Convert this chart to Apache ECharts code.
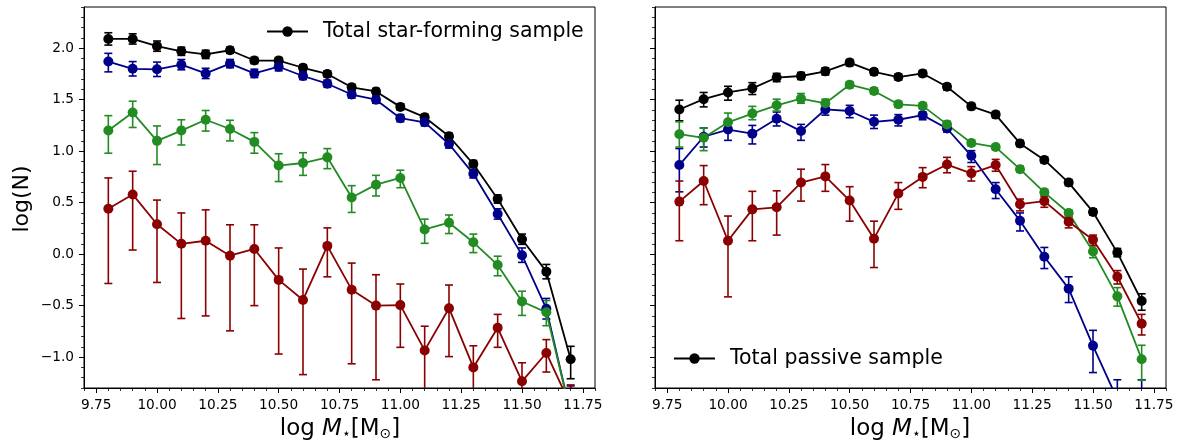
<!DOCTYPE html>
<html>
<head>
<meta charset="utf-8">
<script src="https://cdn.jsdelivr.net/npm/echarts@6/dist/echarts.min.js"></script>
<style>
html,body{margin:0;padding:0;background:#fff;}
#chart{width:1186px;height:443px;}
</style>
</head>
<body>
<div id="chart"></div>
<script>
// ---------- data ----------
const masses = [9.8, 9.9, 10.0, 10.1, 10.2, 10.3, 10.4, 10.5, 10.6, 10.7, 10.8, 10.9, 11.0, 11.1, 11.2, 11.3, 11.4, 11.5, 11.6, 11.7];

const xTickValues = [9.75, 10.0, 10.25, 10.5, 10.75, 11.0, 11.25, 11.5, 11.75];
const xTickLabels = ['9.75', '10.00', '10.25', '10.50', '10.75', '11.00', '11.25', '11.50', '11.75'];
const yTickValues = [-1.0, -0.5, 0.0, 0.5, 1.0, 1.5, 2.0];
const yTickLabels = ['\u22121.0', '\u22120.5', '0.0', '0.5', '1.0', '1.5', '2.0'];

// star-forming panel
const sfTotal   = [2.09, 2.09, 2.02, 1.97, 1.94, 1.98, 1.88, 1.88, 1.81, 1.75, 1.62, 1.58, 1.43, 1.33, 1.145, 0.875, 0.535, 0.145, -0.17, -1.02];
const sfTotalHi = [2.15, 2.14, 2.07, 2.01, 1.98, 2.01, 1.91, 1.91, 1.84, 1.78, 1.65, 1.61, 1.46, 1.36, 1.175, 0.91, 0.575, 0.195, -0.10, -0.895];
const sfTotalLo = [2.03, 2.04, 1.97, 1.93, 1.90, 1.95, 1.85, 1.85, 1.78, 1.72, 1.59, 1.55, 1.40, 1.30, 1.115, 0.84, 0.495, 0.095, -0.24, -1.21];

const sfBlue    = [1.87, 1.80, 1.795, 1.84, 1.755, 1.85, 1.755, 1.82, 1.73, 1.655, 1.55, 1.50, 1.32, 1.28, 1.07, 0.78, 0.39, -0.01, -0.53, -1.55];
const sfBlueHi  = [1.95, 1.87, 1.865, 1.89, 1.805, 1.89, 1.795, 1.86, 1.765, 1.69, 1.585, 1.535, 1.355, 1.315, 1.11, 0.82, 0.44, 0.06, -0.43, -1.28];
const sfBlueLo  = [1.77, 1.73, 1.725, 1.79, 1.705, 1.81, 1.715, 1.78, 1.695, 1.62, 1.515, 1.465, 1.285, 1.245, 1.03, 0.74, 0.34, -0.08, -0.63, -1.82];

const sfGreen   = [1.20, 1.375, 1.10, 1.20, 1.305, 1.215, 1.09, 0.86, 0.885, 0.94, 0.55, 0.675, 0.74, 0.24, 0.305, 0.115, -0.105, -0.46, -0.565, -1.55];
const sfGreenHi = [1.345, 1.485, 1.245, 1.305, 1.395, 1.30, 1.18, 0.975, 0.985, 1.025, 0.665, 0.765, 0.815, 0.34, 0.38, 0.195, -0.02, -0.36, -0.45, -1.35];
const sfGreenLo = [0.98, 1.23, 0.87, 1.06, 1.195, 1.10, 0.98, 0.705, 0.765, 0.83, 0.405, 0.565, 0.645, 0.105, 0.20, 0.015, -0.21, -0.595, -0.695, -1.8];

const sfRed     = [0.44, 0.58, 0.29, 0.10, 0.13, -0.015, 0.05, -0.25, -0.445, 0.08, -0.345, -0.50, -0.495, -0.935, -0.525, -1.10, -0.715, -1.235, -0.96, -1.47];
const sfRedHi   = [0.74, 0.805, 0.525, 0.40, 0.43, 0.285, 0.285, 0.06, -0.145, 0.255, -0.087, -0.20, -0.29, -0.70, -0.30, -0.89, -0.585, -1.055, -0.83, -1.27];
const sfRedLo   = [-0.285, 0.04, -0.275, -0.625, -0.60, -0.745, -0.50, -0.97, -1.17, -0.22, -1.065, -1.22, -0.905, -1.45, -0.995, -1.45, -0.905, -1.45, -1.145, -1.7];

// passive panel
const paTotal   = [1.405, 1.505, 1.57, 1.61, 1.715, 1.73, 1.775, 1.86, 1.77, 1.72, 1.755, 1.625, 1.435, 1.355, 1.075, 0.915, 0.695, 0.41, 0.015, -0.455];
const paTotalHi = [1.495, 1.57, 1.63, 1.665, 1.755, 1.765, 1.81, 1.89, 1.80, 1.75, 1.785, 1.655, 1.465, 1.385, 1.105, 0.945, 0.725, 0.44, 0.055, -0.385];
const paTotalLo = [1.295, 1.43, 1.495, 1.55, 1.675, 1.695, 1.74, 1.83, 1.74, 1.69, 1.725, 1.595, 1.405, 1.325, 1.045, 0.885, 0.665, 0.38, -0.025, -0.545];

const paBlue    = [0.865, 1.14, 1.21, 1.17, 1.315, 1.195, 1.405, 1.39, 1.285, 1.305, 1.35, 1.22, 0.955, 0.63, 0.325, -0.025, -0.335, -0.89, -1.41, -1.9];
const paBlueHi  = [1.025, 1.225, 1.30, 1.25, 1.38, 1.26, 1.445, 1.445, 1.35, 1.355, 1.38, 1.255, 1.005, 0.695, 0.40, 0.065, -0.22, -0.74, -1.22, -1.22];
const paBlueLo  = [0.605, 1.04, 1.105, 1.07, 1.245, 1.105, 1.35, 1.325, 1.22, 1.245, 1.305, 1.185, 0.89, 0.54, 0.225, -0.14, -0.47, -1.15, -1.6, -2.6];

const paGreen   = [1.165, 1.13, 1.28, 1.365, 1.445, 1.51, 1.465, 1.645, 1.585, 1.455, 1.44, 1.26, 1.08, 1.04, 0.825, 0.60, 0.40, 0.025, -0.41, -1.02];
const paGreenHi = [1.285, 1.225, 1.37, 1.435, 1.505, 1.56, 1.505, 1.675, 1.615, 1.485, 1.47, 1.29, 1.11, 1.065, 0.855, 0.63, 0.43, 0.08, -0.325, -0.885];
const paGreenLo = [1.04, 1.005, 1.205, 1.305, 1.39, 1.465, 1.425, 1.615, 1.555, 1.425, 1.41, 1.23, 1.05, 1.015, 0.795, 0.57, 0.37, -0.035, -0.505, -1.225];

const paRed     = [0.51, 0.71, 0.13, 0.435, 0.455, 0.695, 0.755, 0.52, 0.15, 0.59, 0.75, 0.87, 0.785, 0.865, 0.485, 0.515, 0.315, 0.14, -0.22, -0.675];
const paRedHi   = [0.71, 0.86, 0.37, 0.61, 0.615, 0.825, 0.87, 0.655, 0.32, 0.695, 0.84, 0.94, 0.85, 0.92, 0.535, 0.56, 0.36, 0.185, -0.16, -0.585];
const paRedLo   = [0.13, 0.48, -0.415, 0.13, 0.185, 0.515, 0.61, 0.32, -0.13, 0.435, 0.645, 0.79, 0.71, 0.805, 0.42, 0.455, 0.255, 0.085, -0.29, -0.785];

const legendLeft = 'Total star-forming sample';
const legendRight = 'Total passive sample';

// ---------- styles ----------
const FONT = 'DejaVu Sans';
const C_BLACK = '#000000', C_BLUE = '#00008b', C_GREEN = '#228b22', C_RED = '#8b0000';
const X_MIN = 9.7, X_MAX = 11.8, Y_MIN = -1.3, Y_MAX = 2.4;
const grids = [
  {left: 84, top: 7, width: 511, height: 381},
  {left: 655, top: 7, width: 511, height: 381}
];

function majorX(g) {
  return {
    type: 'value', gridIndex: g, min: X_MIN, max: X_MAX, position: 'bottom',
    axisLine: {show: true, onZero: false, lineStyle: {color: '#000', width: 1}},
    axisTick: {show: true, customValues: xTickValues, length: 5, lineStyle: {color: '#000', width: 1}},
    axisLabel: {show: true, customValues: xTickValues, margin: 10, color: '#000', fontSize: 13.7, fontFamily: FONT,
      formatter: v => { const i = xTickValues.findIndex(t => Math.abs(t - v) < 1e-6); return i >= 0 ? xTickLabels[i] : ''; }},
    splitLine: {show: false}
  };
}
function minorX(g) {
  return {
    type: 'value', gridIndex: g, min: X_MIN, max: X_MAX, interval: 0.05, position: 'bottom',
    axisLine: {show: false, onZero: false},
    axisTick: {show: true, length: 3, lineStyle: {color: '#000', width: 0.8}},
    axisLabel: {show: false}, splitLine: {show: false}
  };
}
function majorY(g, labels) {
  return {
    type: 'value', gridIndex: g, min: Y_MIN, max: Y_MAX, position: 'left',
    axisLine: {show: true, onZero: false, lineStyle: {color: '#000', width: 1}},
    axisTick: {show: true, customValues: yTickValues, length: 5, lineStyle: {color: '#000', width: 1}},
    axisLabel: {show: labels, customValues: yTickValues, margin: 10, color: '#000', fontSize: 13.7, fontFamily: FONT,
      formatter: v => { const i = yTickValues.findIndex(t => Math.abs(t - v) < 1e-6); return i >= 0 ? yTickLabels[i] : ''; }},
    splitLine: {show: false}
  };
}
function minorY(g) {
  return {
    type: 'value', gridIndex: g, min: Y_MIN, max: Y_MAX, interval: 0.1, position: 'left',
    axisLine: {show: false, onZero: false},
    axisTick: {show: true, length: 3, lineStyle: {color: '#000', width: 0.8}},
    axisLabel: {show: false}, splitLine: {show: false}
  };
}

function errSeries(axisIdx, color, hi, lo) {
  return {
    type: 'custom', xAxisIndex: axisIdx, yAxisIndex: axisIdx, silent: true,
    data: masses.map((x, i) => [x, lo[i], hi[i]]),
    encode: {x: 0, y: [1, 2]},
    renderItem: (params, api) => {
      const cs = params.coordSys;
      const x = api.value(0);
      const pLo = api.coord([x, api.value(1)]);
      const pHi = api.coord([x, api.value(2)]);
      const top = cs.y, bottom = cs.y + cs.height;
      const px = pLo[0];
      const y1 = Math.max(top, Math.min(bottom, pHi[1]));
      const y2 = Math.max(top, Math.min(bottom, pLo[1]));
      const children = [];
      const st = {stroke: color, lineWidth: 1.6};
      if (y2 - y1 > 0.1) children.push({type: 'line', shape: {x1: px, y1: y1, x2: px, y2: y2}, style: st});
      const cap = 4;
      if (pHi[1] >= top - 0.5 && pHi[1] <= bottom + 0.5)
        children.push({type: 'line', shape: {x1: px - cap, y1: pHi[1], x2: px + cap, y2: pHi[1]}, style: st});
      if (pLo[1] >= top - 0.5 && pLo[1] <= bottom + 0.5)
        children.push({type: 'line', shape: {x1: px - cap, y1: pLo[1], x2: px + cap, y2: pLo[1]}, style: st});
      return {type: 'group', children: children};
    }
  };
}
function lineSeries(name, axisIdx, color, vals) {
  return {
    type: 'line', name: name, xAxisIndex: axisIdx, yAxisIndex: axisIdx, silent: true,
    data: masses.map((x, i) => [x, vals[i]]),
    symbol: 'circle', symbolSize: 10, showSymbol: true, clip: true,
    itemStyle: {color: color, borderWidth: 0},
    lineStyle: {color: color, width: 1.8},
    emphasis: {disabled: true}, animation: false
  };
}

const series = [];
[[C_BLACK, sfTotal, sfTotalHi, sfTotalLo, legendLeft],
 [C_BLUE, sfBlue, sfBlueHi, sfBlueLo, 'sf-blue'],
 [C_GREEN, sfGreen, sfGreenHi, sfGreenLo, 'sf-green'],
 [C_RED, sfRed, sfRedHi, sfRedLo, 'sf-red']].forEach(([c, v, h, l, n]) => {
  series.push(errSeries(0, c, h, l));
  series.push(lineSeries(n, 0, c, v));
});
[[C_BLACK, paTotal, paTotalHi, paTotalLo, legendRight],
 [C_BLUE, paBlue, paBlueHi, paBlueLo, 'pa-blue'],
 [C_GREEN, paGreen, paGreenHi, paGreenLo, 'pa-green'],
 [C_RED, paRed, paRedHi, paRedLo, 'pa-red']].forEach(([c, v, h, l, n]) => {
  series.push(errSeries(2, c, h, l));
  series.push(lineSeries(n, 2, c, v));
});

const xTitleRich = {
  i: {fontSize: 23, fontStyle: 'italic', fontFamily: FONT, fill: '#000'},
  s: {fontSize: 14, fontFamily: FONT, fill: '#000', verticalAlign: 'bottom', padding: [10, 0, 0, 0]}
};

const option = {
  animation: false,
  backgroundColor: '#fff',
  grid: grids.map(g => Object.assign({show: true, borderColor: '#000', borderWidth: 1, backgroundColor: 'transparent', containLabel: false}, g)),
  xAxis: [majorX(0), minorX(0), majorX(1), minorX(1)],
  yAxis: [majorY(0, true), minorY(0), majorY(1, false), minorY(1)],
  legend: [
    {data: [legendLeft], left: 266, top: 21, padding: 0, itemWidth: 41, itemHeight: 13, selectedMode: false,
     textStyle: {fontSize: 20.5, color: '#000', fontFamily: FONT, padding: [0, 0, 0, 10]}},
    {data: [legendRight], left: 673, top: 348, padding: 0, itemWidth: 41, itemHeight: 13, selectedMode: false,
     textStyle: {fontSize: 20.5, color: '#000', fontFamily: FONT, padding: [0, 0, 0, 10]}}
  ],
  graphic: [
    {type: 'text', x: 22, y: 199, rotation: Math.PI / 2,
     style: {text: 'log(N)', fontSize: 22, fontFamily: FONT, fill: '#000', align: 'center', verticalAlign: 'middle'}},
    {type: 'text', x: 340, y: 429,
     style: {text: 'log {i|M}{s|\u22c6}[M{s|\u2299}]', rich: xTitleRich, fontSize: 23, fontFamily: FONT, fill: '#000', align: 'center', verticalAlign: 'middle'}},
    {type: 'text', x: 910, y: 429,
     style: {text: 'log {i|M}{s|\u22c6}[M{s|\u2299}]', rich: xTitleRich, fontSize: 23, fontFamily: FONT, fill: '#000', align: 'center', verticalAlign: 'middle'}}
  ],
  series: series
};

const chart = echarts.init(document.getElementById('chart'), null, {renderer: 'canvas'});
chart.setOption(option);
</script>
</body>
</html>
